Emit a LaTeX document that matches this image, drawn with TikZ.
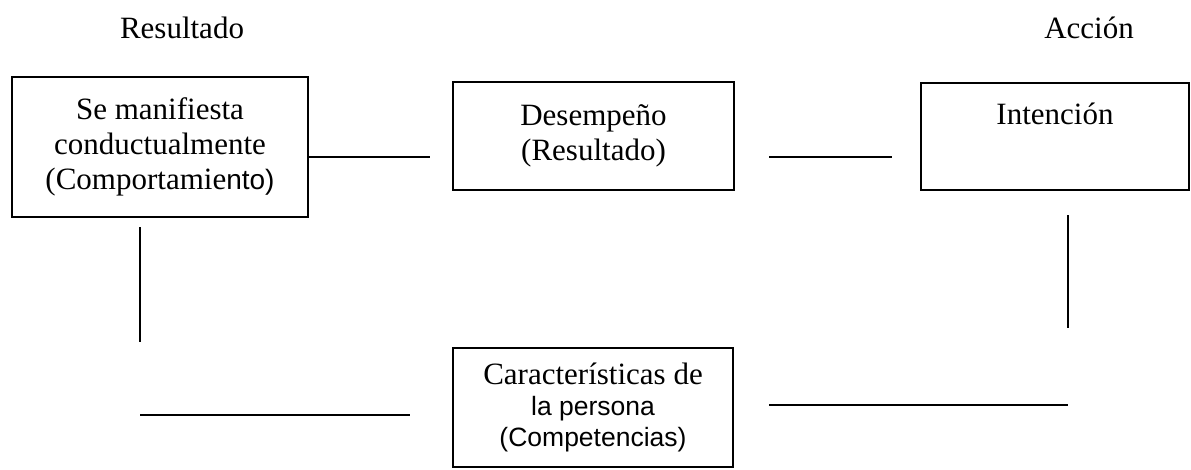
\documentclass[tikz,border=0pt]{standalone}
\usepackage{fontspec}
\setmainfont{Liberation Serif}
\setsansfont{Liberation Sans}
\tikzset{
  texto/.style={font=\fontsize{31}{35}\selectfont},
  caja/.style={draw,line width=2pt,inner sep=0pt,align=center,texto},
  linea/.style={line width=2pt}
}
\begin{document}
\begin{tikzpicture}[x=1pt,y=-1pt]
\useasboundingbox (0,0) rectangle (1191,469);

\node[texto,anchor=base] (res) at (182,38) {Resultado};
\node[texto,anchor=base] (acc) at (1089,38) {Acción};

\node[caja,minimum width=296pt,minimum height=140pt] (manif) at (160,147)
  {Se manifiesta\\conductualmente\\(Comportamie{\sffamily\fontsize{28}{35}\selectfont nto)}};
\node[caja,minimum width=281pt,minimum height=108pt] (desem) at (593.5,136)
  {Desempeño\\(Resultado)};
\node[caja,minimum width=268pt,minimum height=107pt] (inten) at (1055,136.5)
  {Intención\\ \strut};
\node[caja,minimum width=280pt,minimum height=119pt,font=\fontsize{31}{31}\selectfont] (carac) at (593,407.5)
  {Características de\\{\sffamily\fontsize{26.5}{31}\selectfont la persona}\\{\sffamily\fontsize{26.5}{31}\selectfont (Competencias)}};

% lineas sueltas
\coordinate (a1) at (430,157);
\coordinate (b1) at (769,157);
\coordinate (b2) at (892,157);
\coordinate (c1) at (140,227);
\coordinate (c2) at (140,342);
\coordinate (d1) at (1068,215);
\coordinate (d2) at (1068,328);
\coordinate (e1) at (140,415);
\coordinate (e2) at (410,415);
\coordinate (f1) at (769,405);
\coordinate (f2) at (1068,405);

\draw[linea] (manif.east |- a1) -- (a1);
\draw[linea] (b1) -- (b2);
\draw[linea] (c1) -- (c2);
\draw[linea] (d1) -- (d2);
\draw[linea] (e1) -- (e2);
\draw[linea] (f1) -- (f2);

\end{tikzpicture}
\end{document}
